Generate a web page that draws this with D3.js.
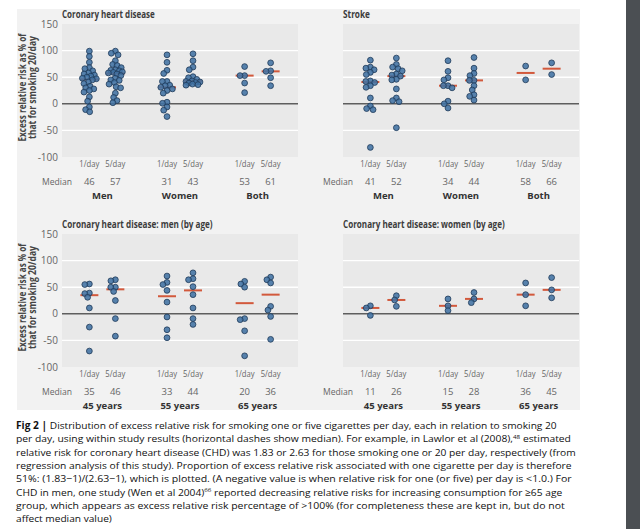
<!DOCTYPE html>
<html><head><meta charset="utf-8">
<script src="https://cdn.jsdelivr.net/npm/d3@7"></script>
<style>body{margin:0;background:#fff}svg{display:block}</style>
</head><body><svg id="c" width="640" height="529"></svg>
<script>
// ---------- data ----------
const doses = ["1/day", "5/day"];
const groupsSex = ["Men", "Women", "Both"];
const groupsAge = ["45 years", "55 years", "65 years"];
const yTicks = [150, 100, 50, 0, -50, -100];
const yGrid = [100, 50, -50];

// Coronary heart disease
const chdMen1 = [99,89,78,68,66,62,58,56,54,52,50,48,47,45,41,38,33,30,28,25,22,13,5,-6,-11,-15];
const chdMen5 = [99,95,92,81,74,72,68,64,63,62,60,59,58,56,53,48,45,44,40,37,32,30,20,12,6,2];
const chdWomen1 = [92,78,63,57,42,42,35,34,31,28,25,20,3,1,-6,-12,-24];
const chdWomen5 = [94,81,69,64,51,49,46,43,42,41,40,39,37,36,35];
const chdBoth1 = [70,53,53,39,21];
const chdBoth5 = [77,62,61,49,34];
const chdMedians = [46,57,31,43,53,61];

// Stroke
const strokeMen1 = [82,69,67,64,59,55,43,42,40,34,31,11,-4,-9,-11,-82];
const strokeMen5 = [86,74,69,66,62,56,54,52,46,45,28,11,6,4,-45];
const strokeWomen1 = [81,61,49,45,34,34,30,5,0,-8];
const strokeWomen5 = [87,67,57,53,44,44,34,26,17,14,7];
const strokeBoth1 = [71,45];
const strokeBoth5 = [77,55];
const strokeMedians = [41,52,34,44,58,66];

// CHD men by age
const menAge45_1 = [56,55,39,38,31,11,-25,-70];
const menAge45_5 = [64,62,50,50,42,25,-9,-42];
const menAge55_1 = [71,59,55,44,22,-6,-30,-45];
const menAge55_5 = [77,66,64,51,36,11,-9,-20];
const menAge65_1 = [61,56,50,-9,-11,-32,-79];
const menAge65_5 = [69,64,58,14,7,-5,-48];
const menAgeMedians = [35,46,33,44,20,36];

// CHD women by age
const womenAge45_1 = [15,11,-3];
const womenAge45_5 = [34,26,14];
const womenAge55_1 = [28,15,6];
const womenAge55_5 = [40,28,21];
const womenAge65_1 = [58,36,15];
const womenAge65_5 = [68,45,30];
const womenAgeMedians = [11,26,15,28,36,45];

const captionLines = [
  ["Fig 2 | ", "Distribution of excess relative risk for smoking one or five cigarettes per day, each in relation to smoking 20"],
  ["", "per day, using within study results (horizontal dashes show median). For example, in Lawlor et al (2008),", "48", " estimated"],
  ["", "relative risk for coronary heart disease (CHD) was 1.83 or 2.63 for those smoking one or 20 per day, respectively (from"],
  ["", "regression analysis of this study). Proportion of excess relative risk associated with one cigarette per day is therefore"],
  ["", "51%: (1.83\u22121)/(2.63\u22121), which is plotted. (A negative value is when relative risk for one (or five) per day is <1.0.) For"],
  ["", "CHD in men, one study (Wen et al 2004)", "66", " reported decreasing relative risks for increasing consumption for \u226565 age"],
  ["", "group, which appears as excess relative risk percentage of >100% (for completeness these are kept in, but do not"],
  ["", "affect median value)"]
];
const captionWidths = [541, 556, 560, 556, 556, 547, 549, 96];

// ---------- drawing ----------
const svg = d3.select("#c");
const FONT = "'Open Sans', 'Liberation Sans', sans-serif";

svg.append("rect").attr("x", 0).attr("y", 0).attr("width", 640).attr("height", 529).attr("fill", "#fff");
svg.append("rect").attr("x", 17).attr("y", 9).attr("width", 563).attr("height", 401).attr("fill", "#f2f2f2");
svg.append("rect").attr("x", 626).attr("y", 0).attr("width", 14).attr("height", 529).attr("fill", "#4b4f53");

// horizontally squeeze a text (placed at 0,0 in its own group) to a target width
function fit(gSel, textSel, x, y, width) {
  const w = textSel.node().getComputedTextLength();
  const sx = w > 0 ? width / w : 1;
  gSel.attr("transform", `translate(${x},${y}) scale(${sx},1)`);
}

function dodge(vals, y, D, maxOff) {
  const order = d3.range(vals.length).sort((a, b) => d3.descending(vals[a], vals[b]));
  const xs = new Array(vals.length);
  const placed = [];
  for (const i of order) {
    const yi = y(vals[i]);
    const near = placed.filter(p => Math.abs(p.y - yi) < D);
    const cands = [0];
    for (const p of near) {
      const dx = Math.sqrt(D * D - (p.y - yi) ** 2);
      cands.push(p.x + dx, p.x - dx);
    }
    cands.sort((a, b) => Math.abs(a) - Math.abs(b) || a - b);
    let best = null;
    for (const c of cands) {
      if (Math.abs(c) > maxOff) continue;
      if (near.every(p => (p.x - c) ** 2 + (p.y - yi) ** 2 >= D * D - 1e-6)) { best = c; break; }
    }
    if (best === null) {
      let bestScore = -1;
      for (let c = -maxOff; c <= maxOff + 1e-9; c += 0.5) {
        const s = d3.min(near, p => (p.x - c) ** 2 + (p.y - yi) ** 2);
        if (s > bestScore) { bestScore = s; best = c; }
      }
    }
    xs[i] = best;
    placed.push({x: best, y: yi});
  }
  return xs;
}

function panel(o) {
  const W = 236, H = 133;
  const g = svg.append("g").attr("transform", `translate(${o.x},${o.y})`);
  const y = d3.scaleLinear().domain([-100, 150]).range([H, 0]);
  const gx = d3.scalePoint().domain(o.groups).range([0, W]).padding(0.52);
  const dx = d3.scalePoint().domain(doses).range([-13, 13]);

  g.append("rect").attr("width", W).attr("height", H).attr("fill", "#e9e9e9");
  g.selectAll("line.grid").data(yGrid).join("line").attr("class", "grid")
    .attr("x1", 0).attr("x2", W).attr("y1", d => y(d)).attr("y2", d => y(d))
    .attr("stroke", "#fff").attr("stroke-width", 1.4);
  g.append("line").attr("x1", 0).attr("x2", W).attr("y1", y(0)).attr("y2", y(0))
    .attr("stroke", "#5e5e5e").attr("stroke-width", 1.4);

  // title
  const tg = g.append("g");
  const tt = tg.append("text").text(o.title)
    .attr("font-family", FONT).attr("font-weight", "bold").attr("font-size", 10.5).attr("fill", "#3c3c3c");
  fit(tg, tt, 0, -6, o.titleLen);

  if (o.axis) {
    g.selectAll("text.tick").data(yTicks).join("text").attr("class", "tick")
      .attr("x", -4).attr("y", d => y(d)).attr("dy", "0.35em").attr("text-anchor", "end")
      .attr("font-family", FONT).attr("font-size", 10).attr("fill", "#666").text(d => d);
    const t = g.append("g").attr("transform", `translate(-36,${y(25) - 3}) rotate(-90)`);
    t.append("text").attr("x", 0).attr("y", 0).attr("text-anchor", "middle").text("Excess relative risk as % of")
      .attr("font-family", FONT).attr("font-weight", "bold").attr("font-size", 10.5).attr("fill", "#444")
      .attr("textLength", 108).attr("lengthAdjust", "spacingAndGlyphs");
    t.append("text").attr("x", 0).attr("y", 9.5).attr("text-anchor", "middle").text("that for smoking 20/day")
      .attr("font-family", FONT).attr("font-weight", "bold").attr("font-size", 10.5).attr("fill", "#444")
      .attr("textLength", 103).attr("lengthAdjust", "spacingAndGlyphs");
  }

  const cols = [];
  o.groups.forEach((gName, gi) => doses.forEach((dName, di) => {
    cols.push({cx: gx(gName) + dx(dName), vals: o.series[gi * 2 + di], med: o.medians[gi * 2 + di], dose: dName});
  }));

  // median dashes
  g.selectAll("line.med").data(cols).join("line").attr("class", "med")
    .attr("x1", d => d.cx - 9).attr("x2", d => d.cx + 9)
    .attr("y1", d => y(d.med)).attr("y2", d => y(d.med))
    .attr("stroke", "#d2593c").attr("stroke-width", 2);

  // dots
  cols.forEach(c => {
    const xs = dodge(c.vals, y, 4.6, 7);
    g.append("g").selectAll("circle").data(c.vals).join("circle")
      .attr("cx", (d, i) => c.cx + xs[i]).attr("cy", d => y(d)).attr("r", 2.9)
      .attr("fill", "#4172a3").attr("fill-opacity", 0.88)
      .attr("stroke", "#1f3a58").attr("stroke-width", 0.8);
  });

  // labels under plot
  g.selectAll("text.dose").data(cols).join("text").attr("class", "dose")
    .attr("x", d => d.cx).attr("y", H + 10).attr("text-anchor", "middle")
    .attr("font-family", FONT).attr("font-size", 9.5).attr("fill", "#666").text(d => d.dose)
    .attr("textLength", 20).attr("lengthAdjust", "spacingAndGlyphs");
  g.append("text").attr("x", 10).attr("y", H + 28).attr("text-anchor", "end").text("Median")
    .attr("font-family", FONT).attr("font-size", 9.5).attr("fill", "#666")
    .attr("textLength", 30).attr("lengthAdjust", "spacingAndGlyphs");
  g.selectAll("text.medv").data(cols).join("text").attr("class", "medv")
    .attr("x", d => d.cx).attr("y", H + 28).attr("text-anchor", "middle")
    .attr("font-family", FONT).attr("font-size", 9.5).attr("fill", "#666").text(d => d.med);
  g.selectAll("text.grp").data(o.groups).join("text").attr("class", "grp")
    .attr("x", d => gx(d)).attr("y", H + 42).attr("text-anchor", "middle")
    .attr("font-family", FONT).attr("font-weight", "bold").attr("font-size", 9.5).attr("fill", "#333").text(d => d);
}

panel({x: 62, y: 24, title: "Coronary heart disease", titleLen: 93, axis: true, groups: groupsSex,
  series: [chdMen1, chdMen5, chdWomen1, chdWomen5, chdBoth1, chdBoth5], medians: chdMedians});
panel({x: 343, y: 24, title: "Stroke", titleLen: 27, axis: false, groups: groupsSex,
  series: [strokeMen1, strokeMen5, strokeWomen1, strokeWomen5, strokeBoth1, strokeBoth5], medians: strokeMedians});
panel({x: 62, y: 234, title: "Coronary heart disease: men (by age)", titleLen: 151, axis: true, groups: groupsAge,
  series: [menAge45_1, menAge45_5, menAge55_1, menAge55_5, menAge65_1, menAge65_5], medians: menAgeMedians});
panel({x: 343, y: 234, title: "Coronary heart disease: women (by age)", titleLen: 162, axis: false, groups: groupsAge,
  series: [womenAge45_1, womenAge45_5, womenAge55_1, womenAge55_5, womenAge65_1, womenAge65_5], medians: womenAgeMedians});

// caption
captionLines.forEach((parts, i) => {
  const lg = svg.append("g");
  const t = lg.append("text").attr("x", 0).attr("y", 0)
    .attr("font-family", FONT).attr("font-size", 9.8).attr("fill", "#111");
  parts.forEach((p, j) => {
    if (!p) return;
    const s = t.append("tspan").text(p);
    if (j === 0 && i === 0) s.attr("font-weight", "bold");
    if (j === 2) s.attr("font-size", 6).attr("dy", -3.5);
    if (j === 3) s.attr("dy", 3.5);
  });
  fit(lg, t, 16, 429 + i * 13.35, captionWidths[i]);
});
</script></body></html>
